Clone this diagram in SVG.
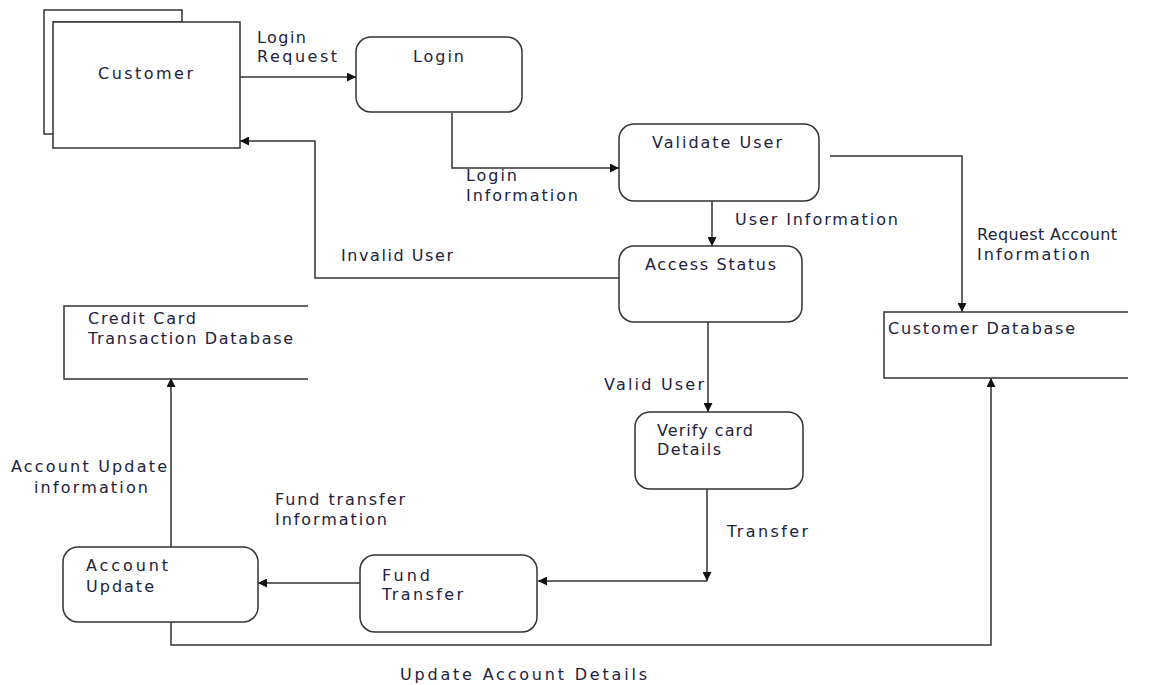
<svg xmlns="http://www.w3.org/2000/svg" width="1151" height="685" viewBox="0 0 1151 685">
<style>
.box{fill:#fff;stroke:#333;stroke-width:1.5}
.ln{fill:none;stroke:#333;stroke-width:1.5}
text{font-family:"DejaVu Sans","Liberation Sans",sans-serif;font-size:16px;fill:#22223a}
</style>
<defs>
<marker id="ah" viewBox="0 0 10 10" refX="10" refY="5" markerWidth="10" markerHeight="9" markerUnits="userSpaceOnUse" orient="auto">
<path d="M0,0 L10,5 L0,10 z" fill="#111"/>
</marker>
</defs>
<rect width="1151" height="685" fill="#fff"/>
<g id="connectors">
<path class="ln" d="M240,77 H356" marker-end="url(#ah)"/>
<path class="ln" d="M452,113 V168 H619" marker-end="url(#ah)"/>
<path class="ln" d="M712,201 V246" marker-end="url(#ah)"/>
<path class="ln" d="M619,278 H315 V141 H240" marker-end="url(#ah)"/>
<path class="ln" d="M830,156 H962 V312" marker-end="url(#ah)"/>
<path class="ln" d="M708,322 V412" marker-end="url(#ah)"/>
<path class="ln" d="M707,489 V581" marker-end="url(#ah)"/>
<path class="ln" d="M707,581 H538" marker-end="url(#ah)"/>
<path class="ln" d="M360,583 H258" marker-end="url(#ah)"/>
<path class="ln" d="M171,547 V378" marker-end="url(#ah)"/>
<path class="ln" d="M171,622 V645 H991 V378" marker-end="url(#ah)"/>
</g>
<g id="customer">
<path class="box" d="M53,22 H182 V10 H44 V134 H53"/>
<rect class="box" x="53" y="22" width="187" height="126"/>
<text x="98" y="79" textLength="95" lengthAdjust="spacing">Customer</text>
</g>
<g id="login">
<rect class="box" x="356" y="37" width="166" height="75" rx="15"/>
<text x="413" y="62" textLength="51" lengthAdjust="spacing">Login</text>
</g>
<g id="validate-user">
<rect class="box" x="619" y="124" width="200" height="77" rx="15"/>
<text x="652" y="148" textLength="130" lengthAdjust="spacing">Validate User</text>
</g>
<g id="access-status">
<rect class="box" x="619" y="246" width="183" height="76" rx="15"/>
<text x="645" y="270" textLength="131" lengthAdjust="spacing">Access Status</text>
</g>
<g id="verify-card">
<rect class="box" x="635" y="412" width="168" height="77" rx="15"/>
<text x="657" y="436" textLength="96" lengthAdjust="spacing">Verify card</text>
<text x="657" y="455" textLength="64" lengthAdjust="spacing">Details</text>
</g>
<g id="fund-transfer">
<rect class="box" x="360" y="555" width="177" height="77" rx="15"/>
<text x="382" y="581" textLength="48" lengthAdjust="spacing">Fund</text>
<text x="382" y="600" textLength="81" lengthAdjust="spacing">Transfer</text>
</g>
<g id="account-update">
<rect class="box" x="63" y="547" width="195" height="75" rx="15"/>
<text x="86" y="571" textLength="82" lengthAdjust="spacing">Account</text>
<text x="86" y="592" textLength="68" lengthAdjust="spacing">Update</text>
</g>
<g id="credit-card-db">
<path class="box" d="M308,306 H64 V379 H308"/>
<text x="88" y="324" textLength="108" lengthAdjust="spacing">Credit Card</text>
<text x="88" y="344" textLength="205" lengthAdjust="spacing">Transaction Database</text>
</g>
<g id="customer-db">
<path class="box" d="M1128,312 H884 V378 H1128"/>
<text x="888" y="334" textLength="187" lengthAdjust="spacing">Customer Database</text>
</g>
<g id="labels">
<text x="257" y="43" textLength="49" lengthAdjust="spacing">Login</text>
<text x="257" y="62" textLength="80" lengthAdjust="spacing">Request</text>
<text x="466" y="181" textLength="51" lengthAdjust="spacing">Login</text>
<text x="466" y="201" textLength="112" lengthAdjust="spacing">Information</text>
<text x="735" y="225" textLength="163" lengthAdjust="spacing">User Information</text>
<text x="977" y="240" textLength="140" lengthAdjust="spacing">Request Account</text>
<text x="977" y="260" textLength="113" lengthAdjust="spacing">Information</text>
<text x="341" y="261" textLength="112" lengthAdjust="spacing">Invalid User</text>
<text x="604" y="390" textLength="100" lengthAdjust="spacing">Valid User</text>
<text x="727" y="537" textLength="81" lengthAdjust="spacing">Transfer</text>
<text x="11" y="472" textLength="156" lengthAdjust="spacing">Account Update</text>
<text x="34" y="493" textLength="114" lengthAdjust="spacing">information</text>
<text x="275" y="505" textLength="130" lengthAdjust="spacing">Fund transfer</text>
<text x="275" y="525" textLength="112" lengthAdjust="spacing">Information</text>
<text x="400" y="680" textLength="247" lengthAdjust="spacing">Update Account Details</text>
</g>
</svg>
